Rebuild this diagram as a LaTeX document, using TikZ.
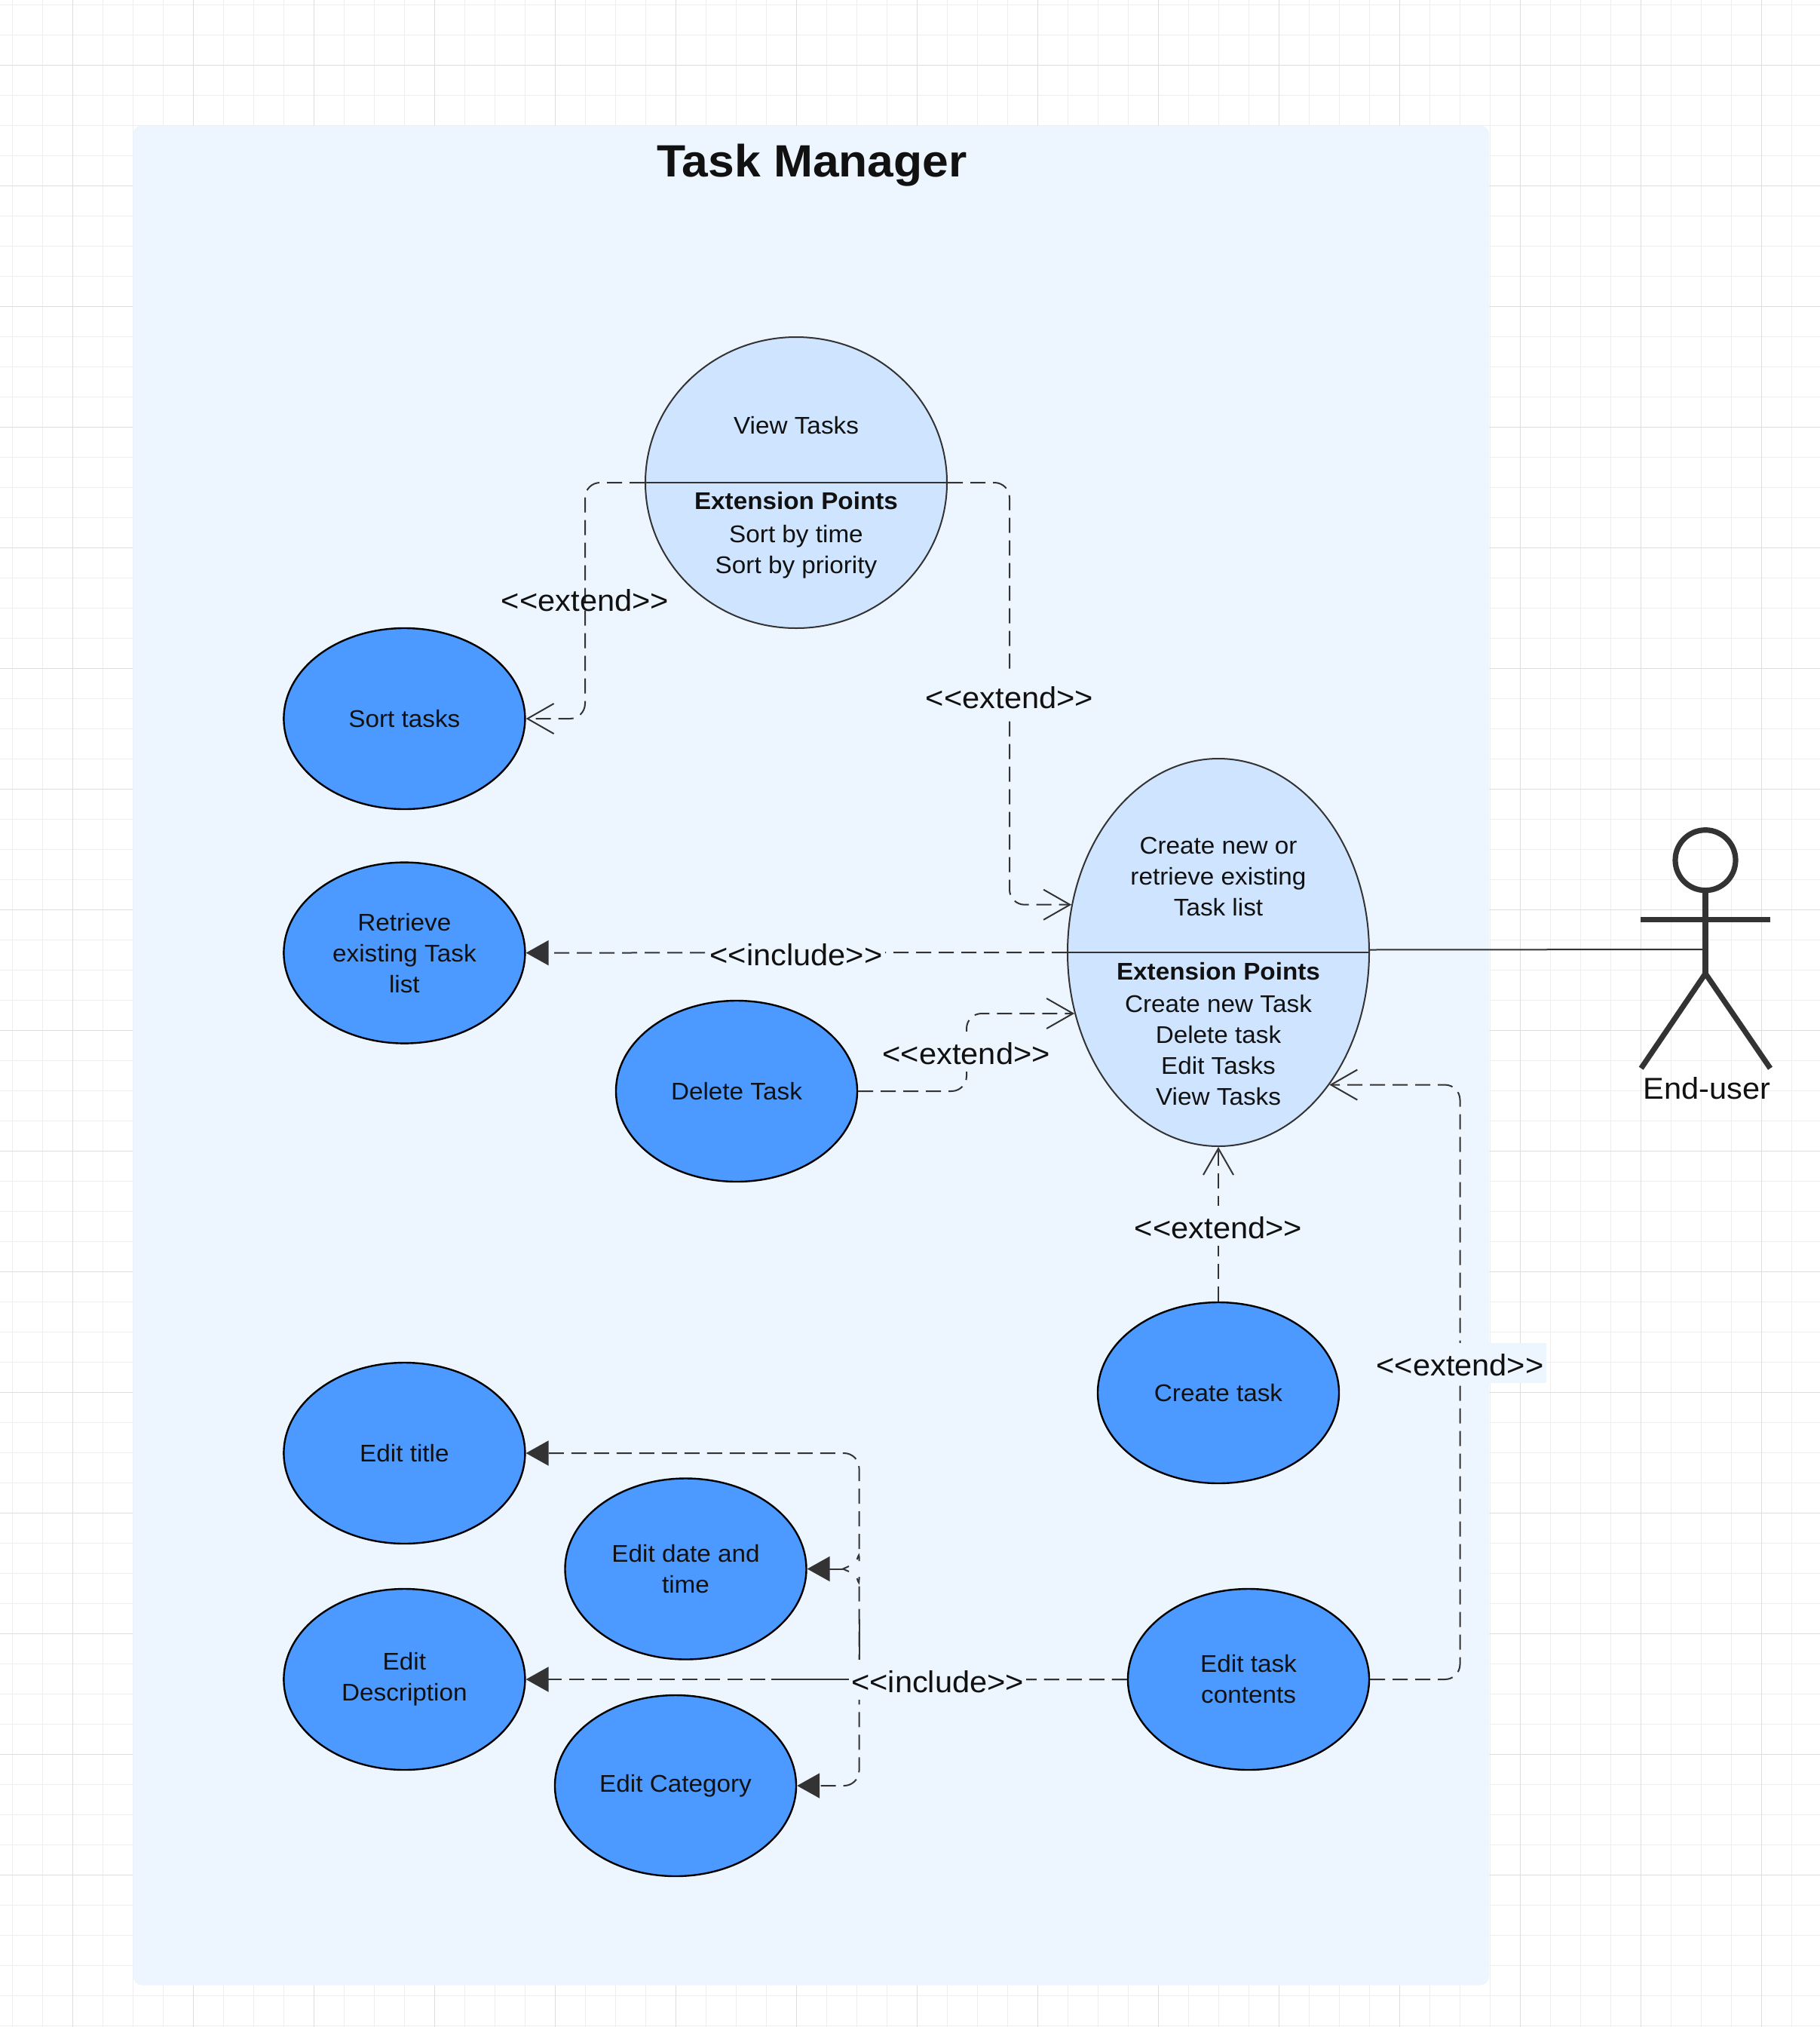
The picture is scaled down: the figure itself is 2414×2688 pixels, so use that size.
\documentclass[tikz,border=0pt]{standalone}
\usepackage{fontspec}
\setmainfont[FakeStretch=1.04]{Liberation Sans}
\usetikzlibrary{shapes,arrows.meta}
\definecolor{gridMinor}{HTML}{EEEEEE}
\definecolor{gridMajor}{HTML}{DEDEDE}
\definecolor{boundaryBlue}{HTML}{EDF5FF}
\definecolor{caseBlue}{HTML}{4C9AFF}
\definecolor{pointsBlue}{HTML}{CFE4FF}
\definecolor{lineGrey}{HTML}{333333}
\definecolor{textBlack}{HTML}{111111}
\tikzstyle{minorGrid} = [draw=gridMinor, line width=0.7pt]
\tikzstyle{majorGrid} = [draw=gridMajor, line width=0.8pt]
\tikzstyle{systemBoundary} = [rectangle, fill=boundaryBlue, rounded corners=6pt,
    minimum width=899.5pt, minimum height=1233pt, inner sep=0pt]
\tikzstyle{useCase} = [ellipse, draw=black, line width=1.2pt, fill=caseBlue,
    minimum width=160pt, minimum height=120pt, inner sep=0pt, text=textBlack,
    align=center, font=\fontsize{16}{20.5}\selectfont]
\tikzstyle{pointsCase} = [ellipse, draw=lineGrey, line width=1pt, fill=pointsBlue,
    minimum width=200pt, inner sep=0pt]
\tikzstyle{caseText} = [inner sep=0pt, text=textBlack, align=center,
    font=\fontsize{16}{20.5}\selectfont]
\tikzstyle{relationLabel} = [inner xsep=1.5pt, inner ysep=0pt, text=textBlack,
    text height=21.9pt, text depth=4.6pt, font=\fontsize{20}{24}\selectfont]
\tikzstyle{divider} = [draw=lineGrey, line width=1pt]
\tikzstyle{extension} = [draw=lineGrey, line width=1pt, dash pattern=on 10pt off 5pt,
    rounded corners=10pt, -{Straight Barb[length=17.5pt, width=20pt, line width=1pt]}]
\tikzstyle{inclusion} = [draw=lineGrey, line width=1pt, dash pattern=on 10pt off 5pt,
    rounded corners=10pt, -{Triangle[length=15pt, width=16.5pt]}]
\tikzstyle{overlapping} = [draw=lineGrey, line width=1pt]
\tikzstyle{actorLimb} = [draw=lineGrey, line width=3.6pt]

\begin{document}
\begin{tikzpicture}[x=0.5pt, y=-0.5pt]
    \useasboundingbox (0,0) rectangle (2414,2688);

    % Background grid
    \foreach \gridStep in {0,...,60} {
        \path[minorGrid] (16.4+40*\gridStep,0) -- (16.4+40*\gridStep,2688);
        \path[minorGrid] (0,6.3+40*\gridStep) -- (2414,6.3+40*\gridStep);
        \path[minorGrid] (0,2406.3+40*\gridStep) -- (2414,2406.3+40*\gridStep);
    }
    \foreach \gridStep in {0,...,15} {
        \path[majorGrid] (96.4+160*\gridStep,0) -- (96.4+160*\gridStep,2688);
        \path[majorGrid] (0,86.3+160*\gridStep) -- (2414,86.3+160*\gridStep);
    }
    \path[clip] (0,0) rectangle (2414,2688);

    % Place nodes
    \node[systemBoundary](taskManager) at (1075.8,2399.5-1000){};
    \node[inner sep=0pt, text=textBlack, font=\fontsize{30}{36}\selectfont\bfseries](taskManagerTitle) at (1077,219){Task Manager};

    \node[pointsCase, minimum height=193pt](viewTasks) at (1056,640){};
    \node[caseText](viewTasksName) at (1056,564){View Tasks};
    \node[caseText, font=\fontsize{16}{20.5}\selectfont\bfseries](viewTasksHead) at (1056,664){Extension Points};
    \node[caseText](viewTasksPoints) at (1056,732){Sort by time\\Sort by priority};

    \node[pointsCase, minimum height=257pt](createList) at (1616,1263){};
    \node[caseText](createListName) at (1616,1162){Create new or\\retrieve existing\\Task list};
    \node[caseText, font=\fontsize{16}{20.5}\selectfont\bfseries](createListHead) at (1616,1288){Extension Points};
    \node[caseText](createListPoints) at (1616,1393){Create new Task\\Delete task\\Edit Tasks\\View Tasks};

    \node[useCase](sortTasks) at (536.4,953){Sort tasks};
    \node[useCase, below of=sortTasks, node distance=155.3pt](retrieveList){Retrieve\\existing Task\\list};
    \node[useCase, below of=retrieveList, node distance=331.7pt](editTitle){Edit title};
    \node[useCase, below of=editTitle, node distance=150pt](editDescription){Edit\\Description};
    \node[useCase](deleteTask) at (977,1447){Delete Task};
    \node[useCase](createTask) at (1616,1847){Create task};
    \node[useCase](editDate) at (909.5,2080.5){Edit date and\\time};
    \node[useCase](editCategory) at (896,2368){Edit Category};
    \node[useCase](editContents) at (1656,2227){Edit task\\contents};

    % Actor
    \node[circle, actorLimb, minimum size=40pt, inner sep=0pt](actorHead) at (2262,1140.7){};
    \coordinate (actorHip) at (2262,1291);
    \coordinate (actorHandL) at (2176,1219.7);
    \coordinate (actorHandR) at (2348,1219.7);
    \coordinate (actorFootL) at (2176.7,1416.7);
    \coordinate (actorFootR) at (2348,1416.7);
    \coordinate (actorWaist) at (2262,1259);
    \node[relationLabel](endUser) at (2264,1439.7){End-user};

    % Bends of the connectors
    \coordinate (sortBend) at (776,640);
    \coordinate (viewBend) at (1339,640);
    \coordinate (deleteBend) at (1282,1447);
    \coordinate (contentsBend) at (1936.5,2227);
    \coordinate (includeBend) at (1139.5,2227);
    \coordinate (titleGap) at (1136.7,2068);
    \coordinate (titleRise) at (1139.5,2050);
    \coordinate (dateGap) at (1136.7,2093);
    \coordinate (dateRise) at (1139.5,2111);
    \coordinate (dateEnd) at (1127,2080.5);
    \coordinate (descriptionSolid) at (1023,2227);
    \coordinate (riseSolid) at (1139.5,2147);

    % Draw edges
    \path[divider] (viewTasks.west) -- (viewTasks.east);
    \path[divider] (createList.west) -- (createList.east);
    \path[extension] (viewTasks.west) -- (sortBend) |- (sortTasks.east);
    \path[extension] (viewTasks.east) -- (viewBend) |- (createList.162.57);
    \path[extension] (deleteTask.east) -- (deleteBend) |- (createList.203.39);
    \path[extension] (createTask) -- (createList);
    \path[extension] (editContents.east) -- (contentsBend) |- (createList.-50.24);
    \path[inclusion] (createList.west) -- (retrieveList.east);
    \path[inclusion] (editContents.west) -- (editDescription.east);
    \path[inclusion] (titleGap) .. controls (1139.5,2060) .. (titleRise) |- (editTitle.east);
    \path[inclusion, -{Triangle[length=15pt, width=16.5pt]}, {Straight Barb[reversed, length=4pt, width=3.5pt]}-{Triangle[length=15pt, width=16.5pt]}, solid] (dateEnd) -- (editDate.east);
    \path[inclusion, -] (editContents.west) -- (includeBend) -- (dateRise) .. controls (1139.5,2101) .. (dateGap);
    \path[inclusion] (editContents.west) -- (includeBend) |- (editCategory.east);
    \path[overlapping] (descriptionSolid) -- (includeBend) -- (riseSolid);
    \path[divider] (createList.1.15) -- (actorWaist);

    \path[actorLimb] (actorHead) -- (actorHip);
    \path[actorLimb] (actorHandL) -- (actorHandR);
    \path[actorLimb] (actorFootL) -- (actorHip) -- (actorFootR);

    % Labels of the connectors
    \node[relationLabel](sortLabel) at (776,792.7){<{}<extend>{}>};
    \node[relationLabel, fill=boundaryBlue](viewLabel) at (1339,922){<{}<extend>{}>};
    \node[relationLabel, fill=boundaryBlue](retrieveLabel) at (1056,1263){<{}<include>{}>};
    \node[relationLabel, fill=boundaryBlue](deleteLabel) at (1281.7,1394.4){<{}<extend>{}>};
    \node[relationLabel, fill=boundaryBlue](createLabel) at (1616,1625){<{}<extend>{}>};
    \node[relationLabel, fill=boundaryBlue](contentsLabel) at (1936.5,1807){<{}<extend>{}>};
    \node[relationLabel, fill=boundaryBlue](editLabel) at (1243.7,2227){<{}<include>{}>};
\end{tikzpicture}
\end{document}
